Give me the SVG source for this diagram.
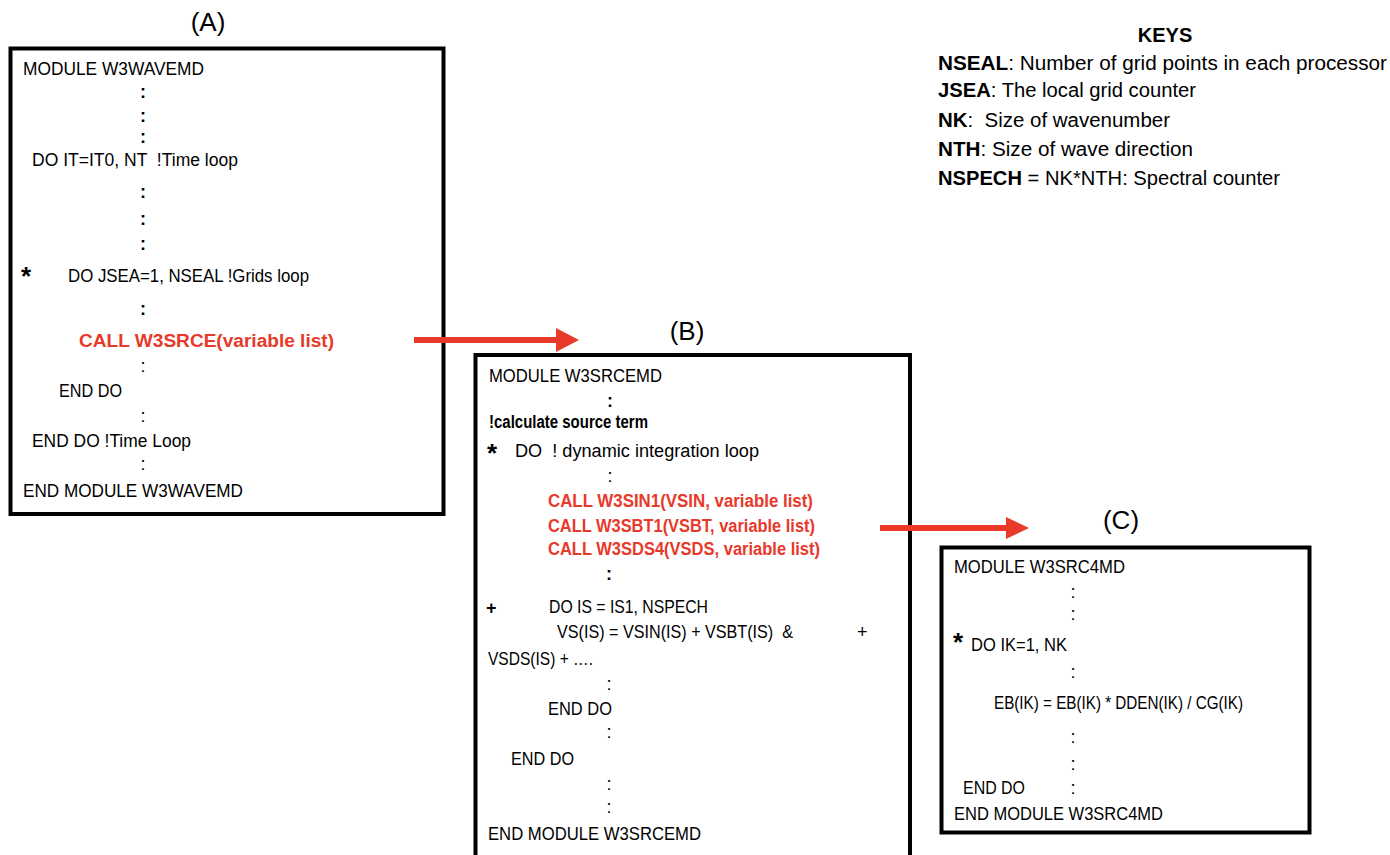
<svg xmlns="http://www.w3.org/2000/svg" width="1390" height="855" viewBox="0 0 1390 855">
<style>
.t{font-family:"Liberation Sans",Arial,sans-serif;font-size:18px;fill:#000}
.b{font-weight:bold}
.r{font-family:"Liberation Sans",Arial,sans-serif;font-size:18px;font-weight:bold;fill:#e8392b}
.c{font-family:"Liberation Sans",Arial,sans-serif;font-size:18px;font-weight:bold;fill:#000;text-anchor:middle}
.cl{font-family:"Liberation Sans",Arial,sans-serif;font-size:18px;fill:#000;text-anchor:middle}
.star{font-family:"Liberation Sans",Arial,sans-serif;font-size:26px;font-weight:bold;fill:#000}
.lbl{font-family:"Liberation Sans",Arial,sans-serif;font-size:26px;fill:#000;text-anchor:middle}
.k{font-family:"Liberation Sans",Arial,sans-serif;font-size:20px;fill:#000}
.box{fill:#fff;stroke:#000;stroke-width:4}
.arr{stroke:#e8392b;stroke-width:6;fill:none}
.head{fill:#e8392b}
</style>
<rect width="1390" height="855" fill="#fff"/>

<g id="keys">
<text class="k b" x="1165" y="42" text-anchor="middle">KEYS</text>
<text class="k" x="938" y="70" textLength="449" lengthAdjust="spacingAndGlyphs"><tspan class="b">NSEAL</tspan>: Number of grid points in each processor</text>
<text class="k" x="938" y="97" textLength="258" lengthAdjust="spacingAndGlyphs"><tspan class="b">JSEA</tspan>: The local grid counter</text>
<text class="k" x="938" y="127" textLength="232" lengthAdjust="spacingAndGlyphs" xml:space="preserve"><tspan class="b">NK</tspan>:  Size of wavenumber</text>
<text class="k" x="938" y="156" textLength="255" lengthAdjust="spacingAndGlyphs"><tspan class="b">NTH</tspan>: Size of wave direction</text>
<text class="k" x="938" y="185" textLength="342" lengthAdjust="spacingAndGlyphs"><tspan class="b">NSPECH</tspan> = NK*NTH: Spectral counter</text>
</g>

<g id="nodeA">
<text class="lbl" x="208" y="31">(A)</text>
<rect class="box" x="10.5" y="48.5" width="433" height="465.5"/>
<text class="t" x="23" y="75" textLength="181" lengthAdjust="spacingAndGlyphs">MODULE W3WAVEMD</text>
<text class="c" x="143" y="98">:</text>
<text class="c" x="143" y="122">:</text>
<text class="c" x="143" y="143">:</text>
<text class="t" x="32" y="166" textLength="206" lengthAdjust="spacingAndGlyphs" xml:space="preserve">DO IT=IT0, NT  !Time loop</text>
<text class="c" x="143" y="198">:</text>
<text class="c" x="143" y="225">:</text>
<text class="c" x="143" y="250">:</text>
<text class="star" x="21" y="285">*</text>
<text class="t" x="68" y="282" textLength="241" lengthAdjust="spacingAndGlyphs">DO JSEA=1, NSEAL !Grids loop</text>
<text class="c" x="143" y="315">:</text>
<text class="r" x="79" y="347" font-size="20" textLength="255" lengthAdjust="spacingAndGlyphs">CALL W3SRCE(variable list)</text>
<text class="cl" x="143" y="372">:</text>
<text class="t" x="59" y="397" textLength="63" lengthAdjust="spacingAndGlyphs">END DO</text>
<text class="cl" x="143" y="422">:</text>
<text class="t" x="32" y="447" textLength="159" lengthAdjust="spacingAndGlyphs">END DO !Time Loop</text>
<text class="cl" x="143" y="470">:</text>
<text class="t" x="23" y="497" textLength="220" lengthAdjust="spacingAndGlyphs">END MODULE W3WAVEMD</text>
</g>

<g id="nodeB">
<text class="lbl" x="687" y="340">(B)</text>
<rect class="box" x="475.5" y="355" width="434.5" height="520"/>
<text class="t" x="489" y="382" textLength="173" lengthAdjust="spacingAndGlyphs">MODULE W3SRCEMD</text>
<text class="c" x="610" y="407">:</text>
<text class="t b" x="489" y="428" font-size="15" textLength="159" lengthAdjust="spacingAndGlyphs">!calculate source term</text>
<text class="star" x="487" y="462">*</text>
<text class="t" x="515" y="457" textLength="244" lengthAdjust="spacingAndGlyphs" xml:space="preserve">DO  ! dynamic integration loop</text>
<text class="cl" x="610" y="482">:</text>
<text class="r" x="548" y="507" textLength="265" lengthAdjust="spacingAndGlyphs">CALL W3SIN1(VSIN, variable list)</text>
<text class="r" x="548" y="532" textLength="267" lengthAdjust="spacingAndGlyphs">CALL W3SBT1(VSBT, variable list)</text>
<text class="r" x="548" y="555" textLength="272" lengthAdjust="spacingAndGlyphs">CALL W3SDS4(VSDS, variable list)</text>
<text class="c" x="609" y="580">:</text>
<text class="t b" x="486" y="614" font-size="24">+</text>
<text class="t" x="549" y="613" textLength="159" lengthAdjust="spacingAndGlyphs">DO IS = IS1, NSPECH</text>
<text class="t" x="557" y="638" textLength="236" lengthAdjust="spacingAndGlyphs" xml:space="preserve">VS(IS) = VSIN(IS) + VSBT(IS)  &amp;</text>
<text class="t" x="857" y="638">+</text>
<text class="t" x="488" y="665" textLength="105" lengthAdjust="spacingAndGlyphs">VSDS(IS) + ….</text>
<text class="cl" x="609" y="690">:</text>
<text class="t" x="548" y="715" textLength="64" lengthAdjust="spacingAndGlyphs">END DO</text>
<text class="cl" x="609" y="738">:</text>
<text class="t" x="511" y="765" textLength="63" lengthAdjust="spacingAndGlyphs">END DO</text>
<text class="cl" x="609" y="790">:</text>
<text class="cl" x="609" y="813">:</text>
<text class="t" x="488" y="840" textLength="213" lengthAdjust="spacingAndGlyphs">END MODULE W3SRCEMD</text>
</g>

<g id="nodeC">
<text class="lbl" x="1121" y="529">(C)</text>
<rect class="box" x="941.5" y="547.5" width="368" height="285"/>
<text class="t" x="954" y="573" textLength="171" lengthAdjust="spacingAndGlyphs">MODULE W3SRC4MD</text>
<text class="cl" x="1073" y="598">:</text>
<text class="cl" x="1073" y="620">:</text>
<text class="star" x="953" y="651">*</text>
<text class="t" x="971" y="651" textLength="96" lengthAdjust="spacingAndGlyphs">DO IK=1, NK</text>
<text class="cl" x="1073" y="678">:</text>
<text class="t" x="994" y="709" font-size="16" textLength="249" lengthAdjust="spacingAndGlyphs">EB(IK) = EB(IK) * DDEN(IK) / CG(IK)</text>
<text class="cl" x="1073" y="743">:</text>
<text class="cl" x="1073" y="770">:</text>
<text class="t" x="963" y="794" textLength="62" lengthAdjust="spacingAndGlyphs">END DO</text>
<text class="cl" x="1073" y="794">:</text>
<text class="t" x="954" y="820" textLength="209" lengthAdjust="spacingAndGlyphs">END MODULE W3SRC4MD</text>
</g>

<g id="connectors">
<line class="arr" x1="414" y1="340" x2="558" y2="340"/>
<polygon class="head" points="556,328 579,340 556,352"/>
<line class="arr" x1="880" y1="528" x2="1008" y2="528"/>
<polygon class="head" points="1006,517 1029,528 1006,539"/>
</g>
</svg>
